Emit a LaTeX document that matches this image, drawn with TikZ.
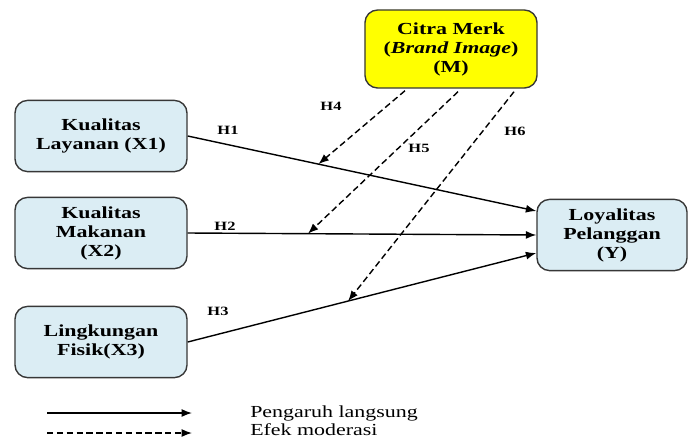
\documentclass[tikz,border=0pt]{standalone}
\usepackage{fontspec}
\setmainfont{Liberation Serif}[
    FakeStretch=1.3,
    BoldFont={Liberation Serif Bold},
    ItalicFont={Liberation Serif Italic},
    BoldItalicFont={Liberation Serif Bold Italic}]
\usetikzlibrary{arrows.meta,calc}
\usepackage{xcolor}
\definecolor{boxblue}{RGB}{219,237,244}
\definecolor{boxyellow}{RGB}{255,255,0}
\definecolor{boxline}{RGB}{55,55,55}
\tikzset{
    varbox/.style={
        draw=boxline,line width=1pt,rounded corners=9pt,fill=#1,
        align=center,minimum width=4.3cm,minimum height=1.78cm,
        font=\fontsize{12}{13.5}\selectfont\bfseries
    },
    varbox/.default=boxblue,
    direct/.style={
        -{Latex[length=2.6mm,width=2mm]},line width=1pt,draw=black
    },
    moder/.style={
        direct,dash pattern=on 4.5pt off 2.5pt
    },
    hlabel/.style={font=\fontsize{9}{10}\selectfont\bfseries},
    legtext/.style={font=\fontsize{12}{12}\selectfont,anchor=west,inner sep=0pt}
}
\begin{document}
\begin{tikzpicture}[x=0.025cm,y=-0.025cm]
\useasboundingbox (0,0) rectangle (688,441);

% variabel
\node[varbox=boxyellow,minimum height=1.95cm] (m) at (451,49)
{Citra Merk\\(\textit{Brand Image})\\(M)};
\node[varbox] (x1) at (101,136) {Kualitas\\Layanan (X1)};
\node[varbox] (x2) at (101,233) {Kualitas\\Makanan\\(X2)};
\node[varbox] (x3) at (101,342) {Lingkungan\\Fisik(X3)};
\node[varbox,minimum width=3.75cm] (y) at (612,235) {Loyalitas\\Pelanggan\\(Y)};

% pengaruh langsung
\draw[direct] (x1.east) -- ($(y.west)+(0,-24)$);
\draw[direct] (x2.east) -- (y.west);
\draw[direct] (x3.east) -- ($(y.west)+(0,18)$);

% titik moderasi
\coordinate (t1) at ($(x1.east)!0.375!($(y.west)+(0,-24)$)$);
\coordinate (t2) at ($(x2.east)!0.345!(y.west)$);
\coordinate (t3) at ($(x3.east)!0.46!($(y.west)+(0,18)$)$);

% efek moderasi
\draw[moder] ($(m.south)+(-46,2)$) -- (t1);
\draw[moder] ($(m.south)+(7,3)$) -- (t2);
\draw[moder] ($(m.south)+(63,3)$) -- (t3);

% label hipotesis
\node[hlabel] (h1) at (228,130) {H1};
\node[hlabel] (h2) at (225,226) {H2};
\node[hlabel] (h3) at (218,311) {H3};
\node[hlabel] (h4) at (331,106) {H4};
\node[hlabel] (h5) at (419,148) {H5};
\node[hlabel] (h6) at (515,131) {H6};

% keterangan
\coordinate (la) at (47,413);
\coordinate (lb) at (192,413);
\coordinate (lc) at (47,433);
\coordinate (ld) at (192,433);
\draw[direct] (la) -- (lb);
\draw[moder] (lc) -- (ld);
\node[legtext] (l1) at (250,413) {Pengaruh langsung};
\node[legtext] (l2) at (250,430) {Efek moderasi};

\end{tikzpicture}
\end{document}
